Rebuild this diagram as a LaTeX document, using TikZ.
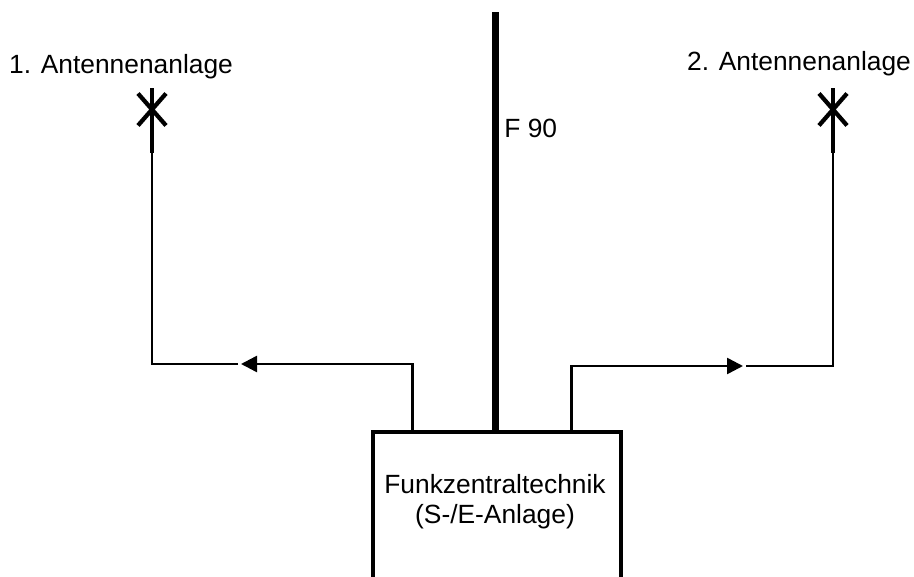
\documentclass[tikz,border=0pt]{standalone}
\usepackage{fontspec}
\setmainfont{Liberation Sans}
\usetikzlibrary{arrows.meta,positioning}
\tikzset{
    leitung/.style={line width=0.05cm},
    mast/.style={line width=0.14cm},
    strahler/.style={line width=0.085cm},
    pfeil/.style={-{Triangle[length=0.32cm,width=0.32cm]}},
    beschriftung/.style={font=\fontsize{15}{17.2}\selectfont,inner sep=0pt,align=center},
    anlage/.style={draw,line width=0.08cm,minimum width=4.96cm,minimum height=5.76cm,inner sep=0pt,outer sep=0pt}
}
\begin{document}
\begin{tikzpicture}[scale=1]
    \clip (0,0) rectangle (18.28,11.52);
    \node[anlage] (zentrale) at (9.94,0) {};
    \node[beschriftung] (technik) at (9.9,1.48) {Funkzentraltechnik\\(S-/E-Anlage)};
    \node[beschriftung] (antenne1) at (2.42,10.18) {1. Antennenanlage};
    \node[beschriftung] (antenne2) at (15.98,10.24) {2. Antennenanlage};
    \coordinate (fuss) at (9.91,2.88);
    \coordinate (spitze) at (9.91,11.28);
    \node[beschriftung,right=0.17cm of spitze,yshift=-2.32cm] (fneunzig) {F 90};
    \draw[mast] (fuss) -- (spitze);
    \coordinate (links1) at (8.25,2.88);
    \coordinate (links2) at (8.25,4.24);
    \coordinate (links3) at (4.82,4.24);
    \coordinate (links4) at (4.76,4.24);
    \coordinate (links5) at (3.04,4.24);
    \coordinate (links6) at (3.04,8.46);
    \coordinate (links7) at (3.04,9.76);
    \draw[leitung,pfeil] (links1) -- (links2) -- (links3);
    \draw[leitung] (links4) -- (links5) -- (links6);
    \draw[strahler] (links6) -- (links7);
    \draw[strahler] (2.76,9.65) -- (3.32,9.01);
    \draw[strahler] (2.76,9.01) -- (3.32,9.65);
    \coordinate (rechts1) at (11.43,2.88);
    \coordinate (rechts2) at (11.43,4.2);
    \coordinate (rechts3) at (14.86,4.2);
    \coordinate (rechts4) at (14.92,4.2);
    \coordinate (rechts5) at (16.66,4.2);
    \coordinate (rechts6) at (16.66,8.46);
    \coordinate (rechts7) at (16.66,9.76);
    \draw[leitung,pfeil] (rechts1) -- (rechts2) -- (rechts3);
    \draw[leitung] (rechts4) -- (rechts5) -- (rechts6);
    \draw[strahler] (rechts6) -- (rechts7);
    \draw[strahler] (16.38,9.65) -- (16.94,9.01);
    \draw[strahler] (16.38,9.01) -- (16.94,9.65);
\end{tikzpicture}
\end{document}
